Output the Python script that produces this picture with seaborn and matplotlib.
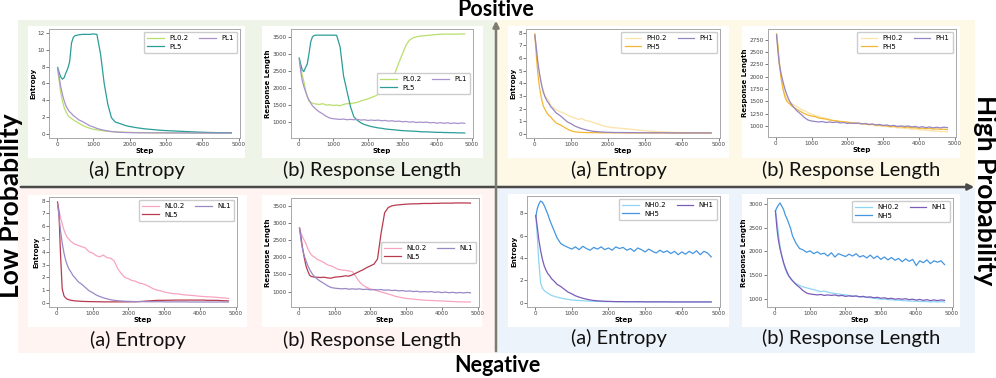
import pandas as pd
import seaborn as sns
import matplotlib.pyplot as plt
import matplotlib.patches as mpatches
from matplotlib.ticker import MultipleLocator

W, H = 996, 378

# training steps shared by every run
steps = [20, 60, 100, 150, 200, 250, 300, 350, 400, 450, 500,
         600, 700, 800, 900, 1000, 1100, 1200, 1300, 1400, 1500,
         1600, 1700, 1800, 1900, 2000, 2100, 2200, 2300, 2400, 2500,
         2600, 2700, 2800, 2900, 3000, 3100, 3200, 3300, 3400, 3500,
         3600, 3700, 3800, 3900, 4000, 4100, 4200, 4300, 4400, 4500,
         4600, 4700, 4800]

# gamma = 1 baseline (shared by PL1 / PH1 / NL1 / NH1)
base_ent = [7.8, 6.8, 5.7, 4.7, 3.9, 3.3, 2.9, 2.6, 2.4, 2.15, 2.0,
            1.65, 1.45, 1.2, 0.95, 0.8, 0.62, 0.5, 0.4, 0.32, 0.25,
            0.2, 0.17, 0.15, 0.13, 0.12, 0.11, 0.1, 0.1, 0.1, 0.09,
            0.09, 0.09, 0.09, 0.09, 0.08, 0.08, 0.08, 0.08, 0.08, 0.08,
            0.08, 0.07, 0.07, 0.07, 0.07, 0.07, 0.07, 0.07, 0.07, 0.07,
            0.07, 0.07, 0.07]
base_len = [2850, 2500, 2250, 2050, 1900, 1760, 1650, 1560, 1480, 1430, 1380,
            1300, 1240, 1170, 1120, 1100, 1090, 1080, 1090, 1070, 1080,
            1070, 1080, 1060, 1070, 1050, 1060, 1050, 1060, 1040, 1050,
            1030, 1040, 1020, 1030, 1010, 1020, 1000, 1010, 990, 1000,
            990, 1000, 980, 990, 970, 985, 965, 980, 960, 975,
            960, 975, 965]

# positive, low probability
pl02_ent = [7.6, 6.3, 5.0, 3.9, 3.1, 2.6, 2.2, 1.95, 1.8, 1.65, 1.5,
            1.25, 1.0, 0.8, 0.65, 0.52, 0.45, 0.38, 0.32, 0.28, 0.25,
            0.22, 0.2, 0.18, 0.16, 0.15, 0.14, 0.13, 0.12, 0.12, 0.11,
            0.11, 0.1, 0.1, 0.1, 0.1, 0.09, 0.09, 0.09, 0.09, 0.08,
            0.08, 0.08, 0.08, 0.08, 0.08, 0.07, 0.07, 0.07, 0.07, 0.07,
            0.07, 0.07, 0.07]
pl5_ent = [7.9, 7.3, 6.8, 6.5, 6.7, 7.3, 7.8, 8.6, 10.8, 11.5, 11.7,
           11.8, 11.85, 11.85, 11.85, 11.9, 11.85, 9.5, 6.0, 3.5, 1.9,
           1.4, 1.25, 1.1, 0.95, 0.85, 0.78, 0.7, 0.64, 0.58, 0.54,
           0.5, 0.46, 0.42, 0.39, 0.36, 0.34, 0.32, 0.3, 0.28, 0.26,
           0.24, 0.22, 0.2, 0.18, 0.17, 0.15, 0.14, 0.13, 0.12, 0.12,
           0.11, 0.1, 0.1]
pl02_len = [2850, 2600, 2400, 2200, 1950, 1750, 1620, 1580, 1560, 1540, 1530,
            1520, 1540, 1500, 1510, 1490, 1500, 1480, 1520, 1540, 1550,
            1560, 1580, 1620, 1650, 1680, 1720, 1760, 1810, 1880, 1950,
            2080, 2250, 2480, 2750, 3000, 3250, 3400, 3470, 3500, 3520,
            3530, 3540, 3550, 3560, 3570, 3575, 3580, 3580, 3580, 3580,
            3580, 3585, 3585]
pl5_len = [2880, 2700, 2550, 2480, 2600, 2700, 3000, 3350, 3500, 3540, 3550,
           3550, 3550, 3550, 3550, 3550, 3545, 3200, 2350, 1900, 1450,
           1150, 1050, 980, 930, 900, 870, 850, 830, 820, 800,
           790, 780, 770, 760, 750, 745, 740, 735, 730, 720,
           715, 715, 710, 705, 700, 700, 695, 695, 690, 690,
           685, 685, 680]

# positive, high probability
ph02_ent = [7.9, 6.8, 5.6, 4.7, 4.0, 3.4, 3.0, 2.8, 2.6, 2.3, 2.1,
            1.9, 1.75, 1.65, 1.5, 1.35, 1.25, 1.15, 1.2, 1.05, 1.0,
            0.9, 0.8, 0.7, 0.6, 0.55, 0.5, 0.47, 0.45, 0.42, 0.4,
            0.37, 0.34, 0.3, 0.27, 0.25, 0.22, 0.2, 0.18, 0.16, 0.15,
            0.13, 0.12, 0.11, 0.1, 0.1, 0.09, 0.09, 0.08, 0.08, 0.08,
            0.07, 0.07, 0.07]
ph5_ent = [7.9, 6.2, 4.8, 3.6, 2.8, 2.2, 1.9, 1.65, 1.45, 1.35, 1.15,
           0.85, 0.72, 0.55, 0.38, 0.24, 0.16, 0.13, 0.11, 0.1, 0.09,
           0.09, 0.09, 0.08, 0.08, 0.08, 0.08, 0.08, 0.08, 0.07, 0.07,
           0.07, 0.07, 0.07, 0.07, 0.07, 0.07, 0.07, 0.07, 0.07, 0.07,
           0.06, 0.06, 0.06, 0.06, 0.06, 0.06, 0.06, 0.06, 0.06, 0.06,
           0.06, 0.06, 0.06]
ph02_len = [2870, 2650, 2300, 2000, 1800, 1650, 1560, 1520, 1490, 1450, 1430,
            1390, 1340, 1310, 1270, 1240, 1210, 1190, 1170, 1150, 1140,
            1110, 1110, 1090, 1090, 1070, 1070, 1060, 1060, 1040, 1040,
            1020, 1030, 1000, 1010, 990, 990, 970, 980, 960, 960,
            950, 950, 930, 940, 920, 920, 910, 910, 895, 900,
            885, 890, 875]
ph5_len = [2870, 2600, 2250, 1950, 1750, 1600, 1510, 1470, 1440, 1400, 1380,
           1330, 1290, 1250, 1220, 1200, 1190, 1160, 1150, 1140, 1120,
           1110, 1100, 1090, 1080, 1080, 1060, 1060, 1050, 1050, 1040,
           1030, 1030, 1020, 1010, 1010, 1000, 990, 995, 980, 985,
           970, 975, 960, 965, 950, 955, 945, 950, 935, 940,
           930, 935, 925]

# negative, low probability
nl02_ent = [7.8, 7.3, 6.7, 6.2, 5.7, 5.35, 5.1, 4.95, 4.8, 4.7, 4.6,
            4.5, 4.4, 4.3, 4.0, 3.9, 3.7, 3.6, 3.75, 3.55, 3.5,
            3.3, 2.7, 2.3, 2.0, 1.9, 1.75, 1.7, 1.55, 1.5, 1.4,
            1.25, 1.1, 1.0, 0.95, 0.85, 0.8, 0.75, 0.72, 0.7, 0.65,
            0.62, 0.6, 0.58, 0.55, 0.52, 0.5, 0.48, 0.47, 0.45, 0.43,
            0.4, 0.38, 0.35]
nl5_ent = [7.9, 7.0, 4.0, 1.1, 0.55, 0.38, 0.28, 0.24, 0.2, 0.18, 0.16,
           0.14, 0.12, 0.11, 0.1, 0.1, 0.09, 0.09, 0.08, 0.08, 0.08,
           0.08, 0.08, 0.08, 0.08, 0.08, 0.09, 0.09, 0.1, 0.12, 0.14,
           0.16, 0.18, 0.2, 0.2, 0.2, 0.21, 0.21, 0.22, 0.22, 0.22,
           0.22, 0.22, 0.22, 0.22, 0.22, 0.22, 0.2, 0.2, 0.2, 0.2,
           0.18, 0.17, 0.15]
nl02_len = [2850, 2700, 2600, 2500, 2400, 2250, 2150, 2070, 2030, 2000, 1950,
            1900, 1850, 1780, 1750, 1700, 1650, 1630, 1620, 1600, 1580,
            1430, 1280, 1180, 1120, 1080, 1050, 1020, 990, 960, 930,
            900, 860, 840, 820, 800, 790, 780, 770, 760, 750,
            745, 740, 735, 730, 725, 720, 715, 710, 705, 700,
            700, 695, 700]
nl5_len = [2850, 2600, 2300, 2000, 1750, 1600, 1480, 1440, 1430, 1420, 1420,
           1410, 1420, 1400, 1390, 1420, 1430, 1440, 1460, 1450, 1490,
           1540, 1590, 1640, 1700, 1750, 1800, 1950, 2700, 3300, 3450,
           3500, 3520, 3530, 3540, 3550, 3555, 3560, 3560, 3565, 3570,
           3570, 3570, 3575, 3575, 3580, 3580, 3580, 3580, 3585, 3585,
           3585, 3585, 3580]

# negative, high probability
nh02_ent = [7.8, 6.0, 3.8, 1.8, 1.3, 1.1, 0.95, 0.85, 0.75, 0.65, 0.6,
            0.5, 0.42, 0.35, 0.3, 0.25, 0.22, 0.2, 0.18, 0.16, 0.14,
            0.13, 0.12, 0.11, 0.1, 0.1, 0.1, 0.09, 0.09, 0.09, 0.09,
            0.09, 0.09, 0.08, 0.08, 0.08, 0.08, 0.08, 0.08, 0.08, 0.08,
            0.08, 0.08, 0.08, 0.08, 0.08, 0.08, 0.08, 0.08, 0.08, 0.08,
            0.08, 0.08, 0.08]
nh5_ent = [7.7, 8.4, 8.8, 9.1, 9.0, 8.7, 8.3, 7.9, 7.4, 7.0, 6.6,
           5.8, 5.3, 5.1, 4.95, 4.8, 5.0, 4.75, 5.05, 4.85, 4.7,
           4.95, 4.8, 5.0, 4.75, 4.9, 4.7, 5.0, 4.85, 4.95, 4.7,
           4.85, 4.6, 4.9, 4.75, 4.55, 4.8, 4.6, 4.45, 4.7, 4.5,
           4.65, 4.4, 4.6, 4.3, 4.55, 4.35, 4.6, 4.4, 4.65, 4.3,
           4.6, 4.45, 4.1]
nh02_len = [2850, 2650, 2400, 2100, 1900, 1750, 1620, 1530, 1470, 1420, 1380,
            1320, 1280, 1250, 1230, 1210, 1190, 1170, 1150, 1160, 1140,
            1120, 1110, 1100, 1090, 1080, 1070, 1060, 1050, 1040, 1040,
            1030, 1020, 1010, 1000, 990, 990, 980, 980, 970, 970,
            960, 960, 950, 950, 950, 940, 940, 940, 930, 940,
            930, 940, 930]
nh5_len = [2850, 2920, 2970, 3020, 2950, 2880, 2760, 2680, 2580, 2480, 2330,
           2170, 2060, 2030, 1980, 2010, 1950, 1990, 1940, 1960, 1900,
           1970, 1880, 1950, 1920, 1890, 1940, 1900, 1950, 1880, 1910,
           1860, 1920, 1850, 1900, 1830, 1880, 1820, 1870, 1810, 1850,
           1780, 1840, 1790, 1830, 1700, 1800, 1760, 1820, 1740, 1800,
           1770, 1800, 1720]


def frac(x0, y0, x1, y1):
    return [x0 / W, 1 - y1 / H, (x1 - x0) / W, (y1 - y0) / H]


fig = plt.figure(figsize=(W / 100, H / 100), dpi=100)

# quadrant backgrounds
quads = [((18, 20, 495, 186), '#eef5e8'),
         ((497, 20, 975, 186), '#fef8e7'),
         ((18, 188, 495, 353), '#fff4f2'),
         ((497, 188, 975, 353), '#edf3fa')]
for rect, col in quads:
    l, b, w, h = frac(*rect)
    fig.add_artist(mpatches.Rectangle((l, b), w, h, transform=fig.transFigure,
                                      facecolor=col, edgecolor='none', zorder=-3))

panels = [
    # white box, axes box, caption y, label, ylabel, tick step, legend loc, runs
    ((28, 26, 245, 158), (49, 29, 240, 138), 170, '(a) Entropy', 'Entropy', 2, 'upper right',
     [('PL0.2', pl02_ent, '#b8df6c'), ('PL5', pl5_ent, '#2a9d98'), ('PL1', base_ent, '#a992cc')]),
    ((262, 26, 483, 158), (291, 29, 473, 138), 170, '(b) Response Length', 'Response Length', 500, 'center right',
     [('PL0.2', pl02_len, '#b8df6c'), ('PL5', pl5_len, '#2a9d98'), ('PL1', base_len, '#a992cc')]),
    ((508, 26, 729, 158), (526, 29, 720, 138), 170, '(a) Entropy', 'Entropy', 1, 'upper right',
     [('PH0.2', ph02_ent, '#fbe2a6'), ('PH5', ph5_ent, '#f4b731'), ('PH1', base_ent, '#9585c3')]),
    ((742, 26, 960, 158), (768, 29, 956, 137), 170, '(b) Response Length', 'Response Length', 250, 'upper right',
     [('PH0.2', ph02_len, '#fbe2a6'), ('PH5', ph5_len, '#f4b731'), ('PH1', base_len, '#9585c3')]),
    ((28, 195, 247, 327), (49, 197, 237, 307), 340, '(a) Entropy', 'Entropy', 1, 'upper right',
     [('NL0.2', nl02_ent, '#f8a4c1'), ('NL5', nl5_ent, '#b83a4e'), ('NL1', base_ent, '#9a88c5')]),
    ((262, 195, 482, 327), (291, 198, 479, 307), 340, '(b) Response Length', 'Response Length', 500, 'center right',
     [('NL0.2', nl02_len, '#f8a4c1'), ('NL5', nl5_len, '#b83a4e'), ('NL1', base_len, '#9a88c5')]),
    ((508, 194, 729, 327), (527, 196, 720, 307), 338, '(a) Entropy', 'Entropy', 2, 'upper right',
     [('NH0.2', nh02_ent, '#8fd5f4'), ('NH5', nh5_ent, '#4596e0'), ('NH1', base_ent, '#7a5cb8')]),
    ((742, 194, 960, 327), (767, 198, 953, 307), 338, '(b) Response Length', 'Response Length', 500, 'upper right',
     [('NH0.2', nh02_len, '#8fd5f4'), ('NH5', nh5_len, '#4596e0'), ('NH1', base_len, '#7a5cb8')]),
]

for white, axbox, cap_y, caption, ylabel, ystep, loc, runs in panels:
    l, b, w, h = frac(*white)
    fig.add_artist(mpatches.Rectangle((l, b), w, h, transform=fig.transFigure,
                                      facecolor='white', edgecolor='none', zorder=-2))
    ax = fig.add_axes(frac(*axbox))
    rows = []
    for name, vals, _ in runs:
        rows.append(pd.DataFrame({'Step': steps, 'value': vals, 'run': name}))
    df = pd.concat(rows, ignore_index=True)
    sns.lineplot(data=df, x='Step', y='value', hue='run',
                 hue_order=[r[0] for r in runs],
                 palette={r[0]: r[2] for r in runs},
                 linewidth=0.9, ax=ax)
    ax.set_xlabel('Step', fontsize=5, fontweight='bold', labelpad=0.5)
    ax.set_ylabel(ylabel, fontsize=5, fontweight='bold', labelpad=1)
    ax.xaxis.set_major_locator(MultipleLocator(1000))
    ax.yaxis.set_major_locator(MultipleLocator(ystep))
    ax.tick_params(labelsize=4.1, length=2, width=0.5, pad=1, colors='#444444')
    for sp in ax.spines.values():
        sp.set_color('#a8a8a8')
        sp.set_linewidth(0.7)
    handles, labels = ax.get_legend_handles_labels()
    ax.legend(handles, labels, ncol=2, loc=loc, fontsize=5, frameon=True,
              handlelength=2.4, handletextpad=0.8, columnspacing=1.5,
              borderpad=0.5, labelspacing=0.35, borderaxespad=0.4,
              edgecolor='#cccccc', fancybox=True, framealpha=1)
    cx = (white[0] + white[2]) / 2
    fig.text(cx / W, 1 - cap_y / H, caption, ha='center', va='center',
             fontsize=14.5, family='Lato', color='#111111')

# axis arrows
fig.add_artist(mpatches.FancyArrowPatch((18 / W, 1 - 187 / H), (977 / W, 1 - 187 / H),
                                        transform=fig.transFigure, arrowstyle='-|>',
                                        mutation_scale=9, lw=1.8, color='#4a4a4a'))
fig.add_artist(mpatches.FancyArrowPatch((496 / W, 1 - 354 / H), (496 / W, 1 - 18 / H),
                                        transform=fig.transFigure, arrowstyle='-|>',
                                        mutation_scale=9, lw=1.8, color='#7c7c70'))

fig.text(496 / W, 1 - 10 / H, 'Positive', ha='center', va='center',
         fontsize=15.5, fontweight='bold', family='Lato')
fig.text(497 / W, 1 - 366 / H, 'Negative', ha='center', va='center',
         fontsize=15.5, fontweight='bold', family='Lato')
fig.text(11 / W, 1 - 206 / H, 'Low Probability', ha='center', va='center',
         rotation=90, fontsize=19, fontweight='bold', family='Lato')
fig.text(985 / W, 1 - 190 / H, 'High Probability', ha='center', va='center',
         rotation=-90, fontsize=19, fontweight='bold', family='Lato')

fig.savefig('out.png', dpi=100)
